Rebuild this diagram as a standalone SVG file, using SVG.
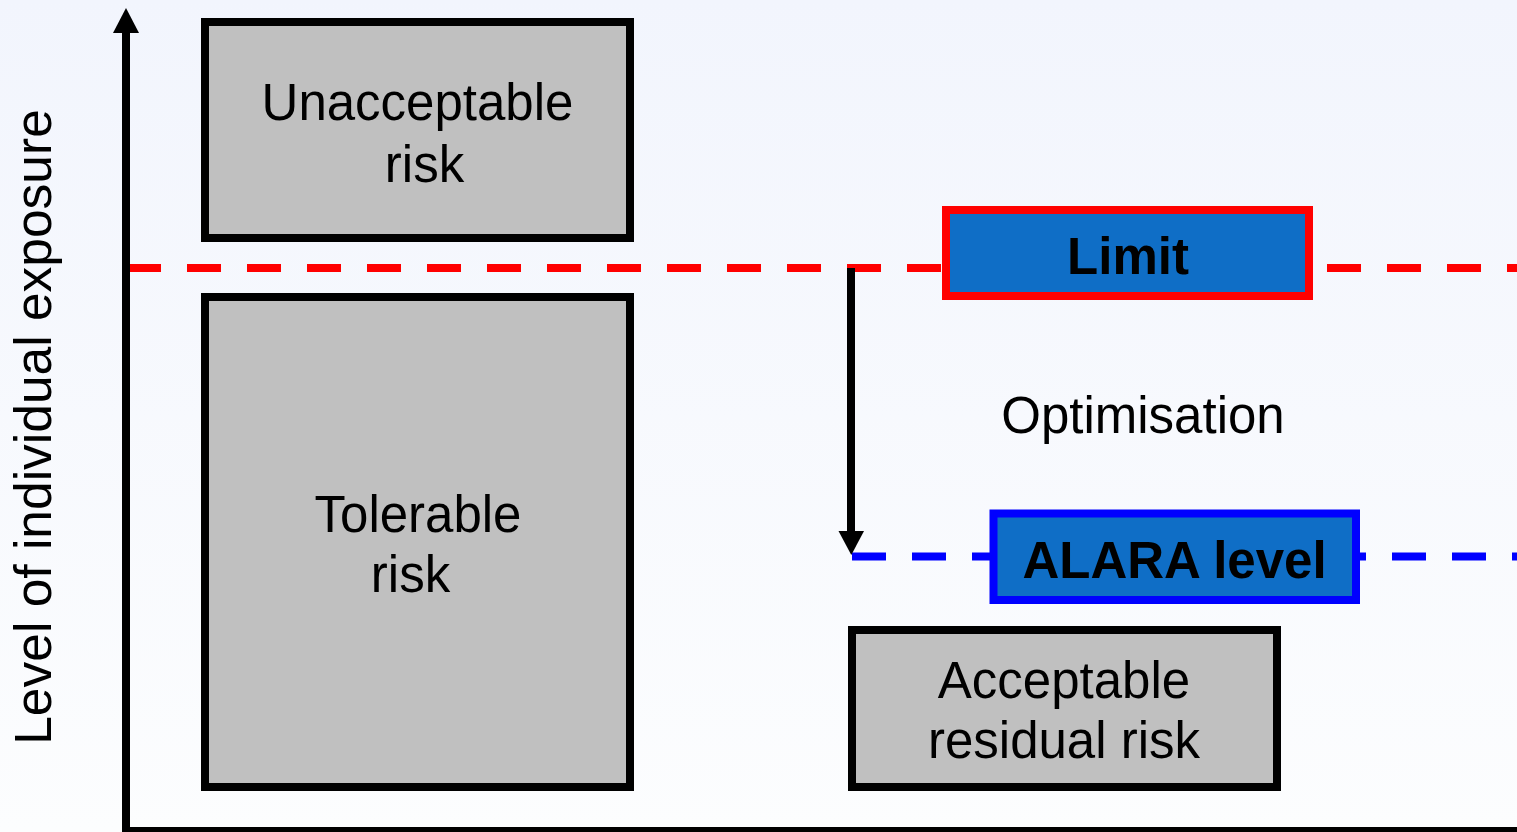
<svg xmlns="http://www.w3.org/2000/svg" width="1517" height="832" viewBox="0 0 1517 832">
  <defs>
    <linearGradient id="bg" x1="0" y1="0" x2="0" y2="1">
      <stop offset="0" stop-color="#F2F5FD"/>
      <stop offset="1" stop-color="#FCFDFE"/>
    </linearGradient>
    <style>
      .box { fill: #C0C0C0; stroke: #000000; stroke-width: 8; }
      .lbl { font-family: "Liberation Sans", Arial, sans-serif; font-size: 51px; fill: #000000; text-anchor: middle; }
      .bold { font-weight: bold; }
      .dash { fill: none; stroke-width: 8; stroke-dasharray: 34 26; }
      .axis { fill: none; stroke: #000000; stroke-width: 8; }
    </style>
  </defs>
  <rect x="0" y="0" width="1517" height="832" fill="url(#bg)"/>

  <g id="connectors">
    <line class="dash" x1="127" y1="268" x2="1517" y2="268" stroke="#FF0000"/>
    <line class="dash" x1="852" y1="556.5" x2="1517" y2="556.5" stroke="#0000FF"/>
    <line class="axis" x1="126" y1="30" x2="126" y2="832"/>
    <line class="axis" x1="122" y1="831" x2="1517" y2="831"/>
    <polygon points="126,8 113,33 139,33" fill="#000000"/>
    <line class="axis" x1="851" y1="268" x2="851" y2="533"/>
    <polygon points="838.5,531 864,531 851.3,555" fill="#000000"/>
  </g>

  <g id="yaxis-label">
    <text class="lbl" style="font-size:51.5px" transform="translate(51,427) rotate(-90)" x="0" y="0">Level of individual exposure</text>
  </g>

  <g id="unacceptable">
    <rect class="box" x="205" y="22" width="425" height="216"/>
    <text class="lbl" x="417.5" y="120">Unacceptable</text>
    <text class="lbl" x="424.5" y="182">risk</text>
  </g>

  <g id="tolerable">
    <rect class="box" x="205" y="297" width="425" height="490"/>
    <text class="lbl" x="418" y="532">Tolerable</text>
    <text class="lbl" x="410.5" y="592">risk</text>
  </g>

  <g id="acceptable">
    <rect class="box" x="852" y="630" width="425" height="157"/>
    <text class="lbl" x="1064" y="698">Acceptable</text>
    <text class="lbl" x="1064" y="758">residual risk</text>
  </g>

  <g id="limit">
    <rect x="946" y="210" width="363" height="86" fill="#0F6EC6" stroke="#FF0000" stroke-width="8"/>
    <text class="lbl bold" x="1128" y="274">Limit</text>
  </g>

  <g id="optimisation">
    <text class="lbl" x="1143" y="433">Optimisation</text>
  </g>

  <g id="alara">
    <rect x="993.5" y="513.5" width="362.5" height="86.5" fill="#0F6EC6" stroke="#0000FF" stroke-width="8"/>
    <text class="lbl bold" x="1174.5" y="577.5">ALARA level</text>
  </g>
</svg>
